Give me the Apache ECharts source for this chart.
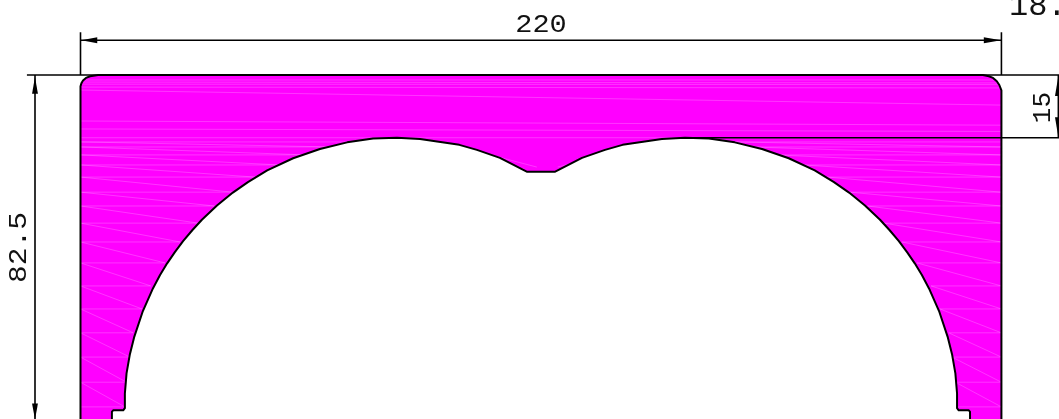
<!DOCTYPE html>
<html>
<head>
<meta charset="utf-8">
<style>html,body{margin:0;padding:0;background:#fff}#c{width:1059px;height:419px}</style>
<script src="https://cdn.jsdelivr.net/npm/echarts@6/dist/echarts.min.js"></script>
</head>
<body>
<div id="c"></div>
<script>
// All values are millimetres on the section drawing.
const innerProfileX = [7.5,7.5,7.8,10.2,10.6,10.6,11.0,11.8,12.8,14.9,17.3,19.0,20.7,22.5,24.5,26.7,29.0,32.6,36.4,40.0,44.6,50.8,57.2,63.7,69.9,75.6,81.1,90.5,94.7,100.2,106.6];
const innerProfileY = [-0.5,2.0,2.4,2.4,2.9,6.4,11.2,15.8,19.8,26.1,31.5,34.7,37.5,40.1,42.8,45.4,47.9,51.3,54.4,56.9,59.7,62.6,64.8,66.4,67.3,67.5,67.2,65.8,64.6,62.7,59.4];
const topCornerLeft = [[0,-0.5],[0,79.8],[0.25,80.6],[0.6,81.2],[1.3,81.8],[2.3,82.2],[4.2,82.5]];
const topCornerRight = [[215.6,82.5],[217,82.2],[218,81.8],[218.9,81],[219.5,80.1],[220,78.8],[220,-0.5]];
const seamRowY = [66.5,65.3,63.4,61.0,58.1,54.5,51.2,47.1,42.6,37.6,32.1,26.6,20.9,15.1,9.1,3.2];
const seamRowArcX = [64.4,60.3,54.1,47.7,41.7,36.4,32.0,28.1,23.8,20.2,16.8,14.7,12.6,11.8,11.0,10.6];
const streaks = [
  [0,81.3,220,81.3],[0,80.8,220,80.6],[0,80.3,220,80.2],[0,79.6,220,79.4],[0,78.9,220,75.3],
  [0,67.5,220,67.5],[0,71.5,220,70.5],[0,69.6,220,69],[75,67.2,106,60],[88,66,109,60.5],[114,60.5,135,66]
];
const dimensionLines = [
  [0,92.7,0,82.5],[220,92.7,220,82.5],[0,90.8,220,90.8],
  [-12.8,82.5,233.8,82.5],[145,67.5,233.8,67.5],
  [-10.87,82.5,-10.87,0],[233.6,82.5,233.6,67.5]
];
const arrowHeads = [
  [[0.2,90.8],[4,91.5],[4,90.1]],
  [[219.9,90.8],[215.8,91.5],[215.8,90.1]],
  [[-10.87,82],[-11.57,78],[-10.17,78]],
  [[-10.87,0.2],[-11.57,4],[-10.17,4]],
  [[233.6,82.2],[232.8,77.5],[234.4,77.5]],
  [[233.6,67.6],[232.8,72.4],[234.4,72.4]]
];
const dimensionTexts = ['220','82.5','15','18.'];
const dimensionTextX = [110,-14.7,230.0,221.8];
const dimensionTextY = [94.3,41.3,74.7,98.85];
const dimensionTextRotated = [false,true,true,false];
const dimensionTextSize = [26,26,26,32];
const dimensionTextStretch = [1.1,1.14,1,1];

const innerLeft = innerProfileX.map((x,i)=>[x,innerProfileY[i]]);
const innerRightUp = innerLeft.map(p=>[220-p[0],p[1]]);
const section = topCornerLeft.concat(topCornerRight, innerRightUp, innerLeft.slice().reverse());
const seams = [];
seamRowY.forEach((y,k)=>{
  seams.push([0,y,seamRowArcX[k],y]);
  seams.push([220-seamRowArcX[k],y,220,y]);
  if(k+1<seamRowY.length){
    seams.push([0,y,seamRowArcX[k+1],seamRowY[k+1]]);
    seams.push([220-seamRowArcX[k],y,220,seamRowY[k+1]]);
  }
});
streaks.forEach(s=>seams.push(s));

const PXMM = 4.186;
const polySeries = (pts,style,z)=>({
  type:'custom',coordinateSystem:'cartesian2d',silent:true,animation:false,z,clip:true,
  data:[[0,0]],
  renderItem:(p,api)=>({type:'polygon',shape:{points:pts.map(q=>api.coord(q))},style})
});
const chart = echarts.init(document.getElementById('c'),null,{renderer:'canvas'});
chart.setOption({
  animation:false,
  backgroundColor:'#ffffff',
  grid:{left:0,right:0,top:0,bottom:0},
  xAxis:{type:'value',show:false,min:-80.5/PXMM,max:(1059-80.5)/PXMM},
  yAxis:{type:'value',show:false,min:1.3/PXMM,max:420.3/PXMM},
  tooltip:{show:false},
  series:[
    polySeries(section,{fill:'#ff00ff'},1),
    {type:'custom',coordinateSystem:'cartesian2d',silent:true,animation:false,z:2,clip:true,data:seams,
     renderItem:(p,api)=>{
       const a=api.coord([api.value(0),api.value(1)]),b=api.coord([api.value(2),api.value(3)]);
       return {type:'line',shape:{x1:a[0],y1:a[1],x2:b[0],y2:b[1]},style:{stroke:'rgba(255,255,255,0.35)',lineWidth:0.6}};
     }},
    // white opening repainted so seam lines stay inside the magenta section
    polySeries(innerLeft.concat(innerRightUp.slice().reverse()),{fill:'#ffffff'},3),
    polySeries(section,{fill:'none',stroke:'#000',lineWidth:2,lineJoin:'round'},4),
    {type:'custom',coordinateSystem:'cartesian2d',silent:true,animation:false,z:5,clip:true,data:dimensionLines,
     renderItem:(p,api)=>{
       const a=api.coord([api.value(0),api.value(1)]),b=api.coord([api.value(2),api.value(3)]);
       return {type:'line',shape:{x1:a[0],y1:a[1],x2:b[0],y2:b[1]},style:{stroke:'#000',lineWidth:1.6}};
     }},
    ...arrowHeads.map(h=>polySeries(h,{fill:'#000'},6)),
    {type:'custom',coordinateSystem:'cartesian2d',silent:true,animation:false,z:7,clip:false,
     data:dimensionTexts.map((t,i)=>[dimensionTextX[i],dimensionTextY[i],i]),
     renderItem:(p,api)=>{
       const i=api.value(2),c=api.coord([api.value(0),api.value(1)]);
       const rot=dimensionTextRotated[i];
       return {type:'text',x:c[0],y:c[1],rotation:rot?Math.PI/2:0,scaleX:dimensionTextStretch[i],
         style:{text:dimensionTexts[i],font:dimensionTextSize[i]+'px "Liberation Mono"',fill:'#111',
           textAlign:dimensionTexts[i]==='18.'?'left':'center',textVerticalAlign:'middle'}};
     }}
  ]
});
</script>
</body>
</html>
